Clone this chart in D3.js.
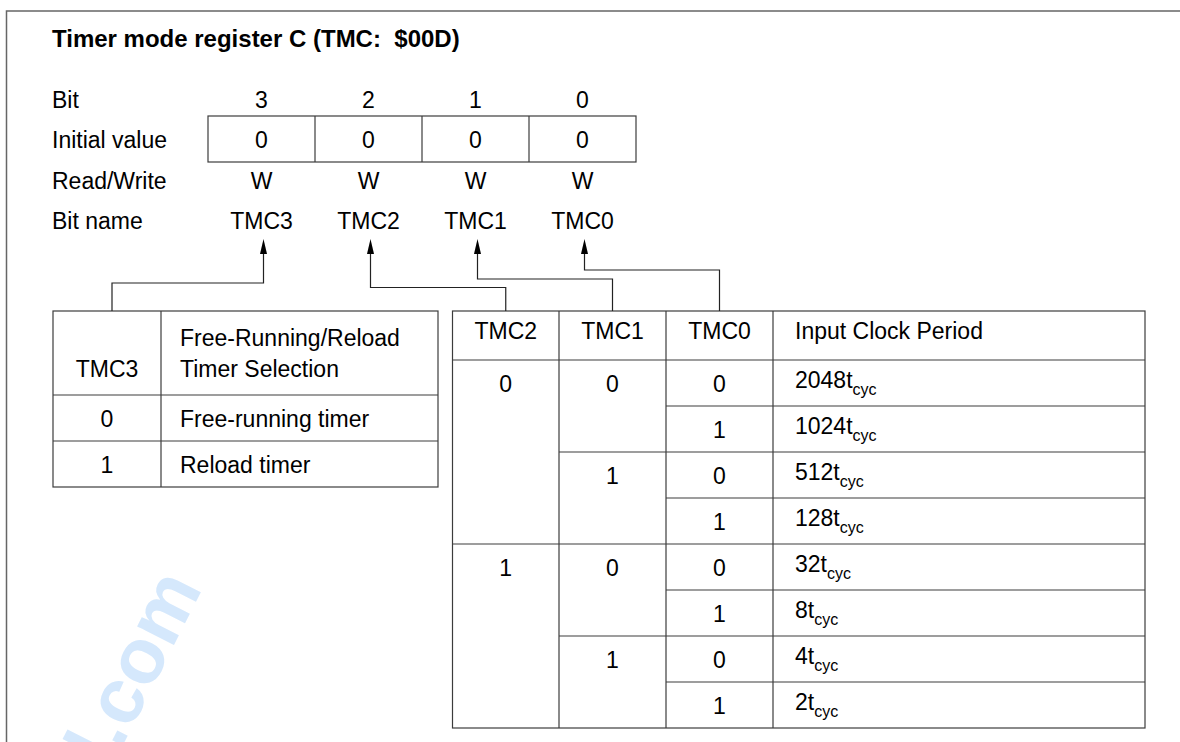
<!DOCTYPE html>
<html>
<head>
<meta charset="utf-8">
<script src="https://cdn.jsdelivr.net/npm/d3@7"></script>
<style>
  html, body { margin: 0; padding: 0; background: #ffffff; }
  svg { display: block; }
  text { font-family: "Liberation Sans", Arial, Helvetica, sans-serif; fill: #000; }
</style>
</head>
<body>
<svg id="chart" width="1180" height="742"></svg>
<script>
// ---------------- data ----------------
const titleText = "Timer mode register C (TMC:\u00a0 $00D)";
const rowLabels = ["Bit", "Initial value", "Read/Write", "Bit name"];
const bitNumbers = ["3", "2", "1", "0"];
const initialValues = ["0", "0", "0", "0"];
const readWrite = ["W", "W", "W", "W"];
const bitNames = ["TMC3", "TMC2", "TMC1", "TMC0"];

const tmc3HeaderLines = ["Free-Running/Reload", "Timer Selection"];
const tmc3Values = ["0", "1"];
const tmc3Modes = ["Free-running timer", "Reload timer"];

const clockHeaders = ["TMC2", "TMC1", "TMC0", "Input Clock Period"];
const tmc2Values = ["0", "1"];
const tmc1Values = ["0", "1", "0", "1"];
const tmc0Values = ["0", "1", "0", "1", "0", "1", "0", "1"];
const clockMultipliers = ["2048", "1024", "512", "128", "32", "8", "4", "2"];
const clockUnitMain = "t";
const clockUnitSub = "cyc";

const watermarkText = "l.com";

// ---------------- layout ----------------
const W = 1180, H = 742;
const FONT = 23, SUB = 16;
const LINE = "#3c3c3c";
const svg = d3.select("#chart");

// watermark (behind everything)
svg.append("text")
  .attr("transform", "translate(203,588) rotate(-63)")
  .attr("text-anchor", "end")
  .style("font-size", "78px")
  .style("font-weight", "bold")
  .style("fill", "#d5e8fc")
  .text(watermarkText);

// frame (top + left)
svg.append("path")
  .attr("d", d3.line()([[6.5, H], [6.5, 11], [W, 11]]))
  .attr("fill", "none").attr("stroke", "#666").attr("stroke-width", 1.5);

// title
svg.append("text")
  .attr("x", 52).attr("y", 47)
  .style("font-size", "24px").style("font-weight", "bold")
  .text(titleText);

// register rows
const labelX = 52;
const rowBase = d3.scaleLinear().domain([0, 3]).range([108, 229]);
const bitX = d3.scaleBand().domain(bitNames).range([208, 636]);

svg.selectAll("text.rowlabel").data(rowLabels).join("text")
  .attr("class", "rowlabel")
  .attr("x", labelX).attr("y", (d, i) => rowBase(i))
  .style("font-size", FONT + "px")
  .text(d => d);

// initial value box
const boxTop = 116, boxBot = 162;
svg.append("rect")
  .attr("x", bitX.range()[0]).attr("y", boxTop)
  .attr("width", bitX.range()[1] - bitX.range()[0]).attr("height", boxBot - boxTop)
  .attr("fill", "none").attr("stroke", LINE).attr("stroke-width", 1.2);
svg.selectAll("line.bitdiv").data(bitNames.slice(1)).join("line")
  .attr("class", "bitdiv")
  .attr("x1", d => bitX(d)).attr("x2", d => bitX(d))
  .attr("y1", boxTop).attr("y2", boxBot)
  .attr("stroke", LINE).attr("stroke-width", 1.2);

const regRows = [bitNumbers, initialValues, readWrite, bitNames];
regRows.forEach((arr, r) => {
  svg.selectAll("text.reg" + r).data(arr).join("text")
    .attr("class", "reg" + r)
    .attr("x", (d, i) => bitX(bitNames[i]) + bitX.bandwidth() / 2)
    .attr("y", rowBase(r))
    .attr("text-anchor", "middle")
    .style("font-size", FONT + "px")
    .text(d => d);
});

// ---------------- left table (TMC3) ----------------
const lCols = [53, 161, 438];
const lRows = [311, 395, 441, 487];
const lg = svg.append("g");
lg.append("rect").attr("x", lCols[0]).attr("y", lRows[0])
  .attr("width", lCols[2] - lCols[0]).attr("height", lRows[3] - lRows[0])
  .attr("fill", "none").attr("stroke", LINE).attr("stroke-width", 1.2);
lg.append("line").attr("x1", lCols[1]).attr("x2", lCols[1]).attr("y1", lRows[0]).attr("y2", lRows[3])
  .attr("stroke", LINE).attr("stroke-width", 1.2);
lg.selectAll("line.lh").data(lRows.slice(1, 3)).join("line")
  .attr("class", "lh")
  .attr("x1", lCols[0]).attr("x2", lCols[2]).attr("y1", d => d).attr("y2", d => d)
  .attr("stroke", LINE).attr("stroke-width", 1.2);
lg.append("text").attr("x", (lCols[0] + lCols[1]) / 2).attr("y", 377)
  .attr("text-anchor", "middle").style("font-size", FONT + "px").text(bitNames[0]);
lg.selectAll("text.lhdr").data(tmc3HeaderLines).join("text")
  .attr("class", "lhdr")
  .attr("x", lCols[1] + 19).attr("y", (d, i) => 346 + i * 31)
  .style("font-size", FONT + "px").text(d => d);
lg.selectAll("text.lval").data(tmc3Values).join("text")
  .attr("class", "lval")
  .attr("x", (lCols[0] + lCols[1]) / 2).attr("y", (d, i) => (lRows[i + 1] + lRows[i + 2]) / 2 + 8.5)
  .attr("text-anchor", "middle").style("font-size", FONT + "px").text(d => d);
lg.selectAll("text.lmode").data(tmc3Modes).join("text")
  .attr("class", "lmode")
  .attr("x", lCols[1] + 19).attr("y", (d, i) => (lRows[i + 1] + lRows[i + 2]) / 2 + 8.5)
  .style("font-size", FONT + "px").text(d => d);

// ---------------- right table (clock) ----------------
const rCols = [452.5, 559, 666, 773, 1145];
const rTop = 311, rHead = 360, rBot = 728;
const rowY = d3.scaleLinear().domain([0, clockMultipliers.length]).range([rHead, rBot]);
const rowH = rowY(1) - rowY(0);
const rg = svg.append("g");
rg.append("rect").attr("x", rCols[0]).attr("y", rTop)
  .attr("width", rCols[4] - rCols[0]).attr("height", rBot - rTop)
  .attr("fill", "none").attr("stroke", LINE).attr("stroke-width", 1.2);
rg.selectAll("line.rv").data(rCols.slice(1, 4)).join("line")
  .attr("class", "rv")
  .attr("x1", d => d).attr("x2", d => d).attr("y1", rTop).attr("y2", rBot)
  .attr("stroke", LINE).attr("stroke-width", 1.2);
rg.append("line").attr("x1", rCols[0]).attr("x2", rCols[4]).attr("y1", rHead).attr("y2", rHead)
  .attr("stroke", LINE).attr("stroke-width", 1.2);
const innerRows = d3.range(1, clockMultipliers.length);
rg.selectAll("line.rh").data(innerRows).join("line")
  .attr("class", "rh")
  .attr("x1", i => i % 4 === 0 ? rCols[0] : (i % 2 === 0 ? rCols[1] : rCols[2]))
  .attr("x2", rCols[4])
  .attr("y1", i => rowY(i)).attr("y2", i => rowY(i))
  .attr("stroke", LINE).attr("stroke-width", 1.2);

// headers
rg.selectAll("text.rhdr").data(clockHeaders).join("text")
  .attr("class", "rhdr")
  .attr("x", (d, i) => i < 3 ? (rCols[i] + rCols[i + 1]) / 2 : rCols[3] + 22)
  .attr("y", 339)
  .attr("text-anchor", (d, i) => i < 3 ? "middle" : "start")
  .style("font-size", FONT + "px").text(d => d);

const digitBase = i => rowY(i) + rowH / 2 + 9;
rg.selectAll("text.t2").data(tmc2Values).join("text")
  .attr("class", "t2")
  .attr("x", (rCols[0] + rCols[1]) / 2).attr("y", (d, i) => digitBase(i * 4))
  .attr("text-anchor", "middle").style("font-size", FONT + "px").text(d => d);
rg.selectAll("text.t1").data(tmc1Values).join("text")
  .attr("class", "t1")
  .attr("x", (rCols[1] + rCols[2]) / 2).attr("y", (d, i) => digitBase(i * 2))
  .attr("text-anchor", "middle").style("font-size", FONT + "px").text(d => d);
rg.selectAll("text.t0").data(tmc0Values).join("text")
  .attr("class", "t0")
  .attr("x", (rCols[2] + rCols[3]) / 2).attr("y", (d, i) => digitBase(i))
  .attr("text-anchor", "middle").style("font-size", FONT + "px").text(d => d);

const periods = rg.selectAll("text.per").data(clockMultipliers).join("text")
  .attr("class", "per")
  .attr("x", rCols[3] + 22).attr("y", (d, i) => digitBase(i) - 4)
  .style("font-size", FONT + "px");
periods.append("tspan").text(d => d + clockUnitMain);
periods.append("tspan").attr("dy", 7).style("font-size", SUB + "px").text(clockUnitSub);

// ---------------- connectors with arrows ----------------
const arrowTip = 239, headLen = 15, headHalf = 3.5;
const bitCenter = n => bitX(n) + bitX.bandwidth() / 2 + 2;
const targetX = {
  TMC3: lCols[0] + 59,
  TMC2: (rCols[0] + rCols[1]) / 2,
  TMC1: (rCols[1] + rCols[2]) / 2,
  TMC0: (rCols[2] + rCols[3]) / 2
};
const elbowY = { TMC3: 283, TMC2: 287.5, TMC1: 279, TMC0: 270 };
const cg = svg.append("g");
bitNames.forEach(n => {
  const x0 = bitCenter(n), x1 = targetX[n], y = elbowY[n];
  cg.append("path")
    .attr("d", d3.line()([[x0, arrowTip + headLen - 1], [x0, y], [x1, y], [x1, rTop]]))
    .attr("fill", "none").attr("stroke", "#222").attr("stroke-width", 1.2);
  cg.append("path")
    .attr("d", d3.line()([[x0, arrowTip], [x0 - headHalf, arrowTip + headLen], [x0 + headHalf, arrowTip + headLen]]) + "Z")
    .attr("fill", "#000");
});
</script>
</body>
</html>
